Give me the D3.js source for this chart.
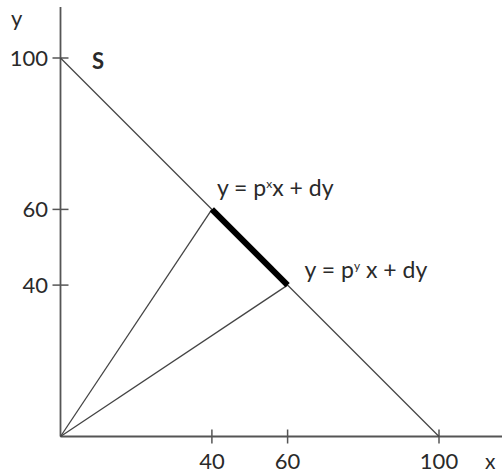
<!DOCTYPE html>
<html>
<head>
<meta charset="utf-8">
<script src="https://cdn.jsdelivr.net/npm/d3@7"></script>
<style>
  body { margin: 0; background: #fff; }
  text { font-family: Lato, "Open Sans", sans-serif; fill: #2a2a2a; }
</style>
</head>
<body>
<div class="chart"></div>
<script>
var svgWidth = 502;
var svgHeight = 475;

// data
var budgetLine = [[0, 100], [100, 0]];
var rayX = [[0, 0], [40, 60]];
var rayY = [[0, 0], [60, 40]];
var segment = [[40, 60], [60, 40]];
var xTicks = [40, 60, 100];
var yTicks = [40, 60, 100];
var eqLabels = [
  { x: 40, y: 60, sup: "x" },
  { x: 60, y: 40, sup: "y" }
];

var svg = d3.select(".chart")
  .append("svg")
  .attr("width", svgWidth)
  .attr("height", svgHeight);

var x = d3.scaleLinear().domain([0, 100]).range([60.5, 439]);
var y = d3.scaleLinear().domain([0, 100]).range([436.5, 58]);

var line = d3.line().x(d => x(d[0])).y(d => y(d[1]));

// axes
svg.append("line")
  .attr("x1", x(0)).attr("x2", x(0))
  .attr("y1", 7).attr("y2", y(0))
  .attr("stroke", "#555").attr("stroke-width", 1.8);
svg.append("line")
  .attr("x1", x(0)).attr("x2", svgWidth)
  .attr("y1", y(0)).attr("y2", y(0))
  .attr("stroke", "#555").attr("stroke-width", 1.8);

// ticks
svg.selectAll(".xtick")
  .data(xTicks)
  .enter()
  .append("line")
  .attr("x1", d => x(d)).attr("x2", d => x(d))
  .attr("y1", y(0) - 7).attr("y2", y(0) + 7)
  .attr("stroke", "#555").attr("stroke-width", 1.5);
svg.selectAll(".ytick")
  .data(yTicks)
  .enter()
  .append("line")
  .attr("y1", d => y(d)).attr("y2", d => y(d))
  .attr("x1", x(0) - 8).attr("x2", x(0) + 8)
  .attr("stroke", "#555").attr("stroke-width", 1.5);

svg.selectAll(".xlabel")
  .data(xTicks)
  .enter()
  .append("text")
  .attr("x", d => x(d))
  .attr("y", 469)
  .attr("text-anchor", "middle")
  .attr("font-size", "22px")
  .text(d => d);
svg.selectAll(".ylabel")
  .data(yTicks)
  .enter()
  .append("text")
  .attr("x", 48)
  .attr("y", d => y(d) + 8)
  .attr("text-anchor", "end")
  .attr("font-size", "22px")
  .text(d => d);

svg.append("text").attr("x", 485).attr("y", 469).attr("font-size", "21px").text("x");
svg.append("text").attr("x", 11).attr("y", 26).attr("font-size", "22px").text("y");
svg.append("text").attr("x", 92).attr("y", 69).attr("font-size", "22px")
  .attr("font-weight", "bold").text("S");

// lines
[budgetLine, rayX, rayY].forEach(function(pts) {
  svg.append("path")
    .attr("d", line(pts))
    .attr("fill", "none")
    .attr("stroke", "#444")
    .attr("stroke-width", 1.3);
});
svg.append("path")
  .attr("d", line(segment))
  .attr("fill", "none")
  .attr("stroke", "#000")
  .attr("stroke-width", 6);

// equation labels
var eq = svg.selectAll(".eq")
  .data(eqLabels)
  .enter()
  .append("text")
  .attr("x", (d, i) => x(d.x) + (i === 0 ? 5 : 17))
  .attr("y", (d, i) => y(d.y) - (i === 0 ? 13 : 7))
  .attr("font-size", "23px");
eq.append("tspan").text("y = p");
eq.append("tspan").attr("dy", -8).attr("font-size", "12px").text(d => d.sup);
eq.append("tspan").attr("dy", 8).text((d, i) => (i === 0 ? "x + dy" : " x + dy"));
</script>
</body>
</html>
